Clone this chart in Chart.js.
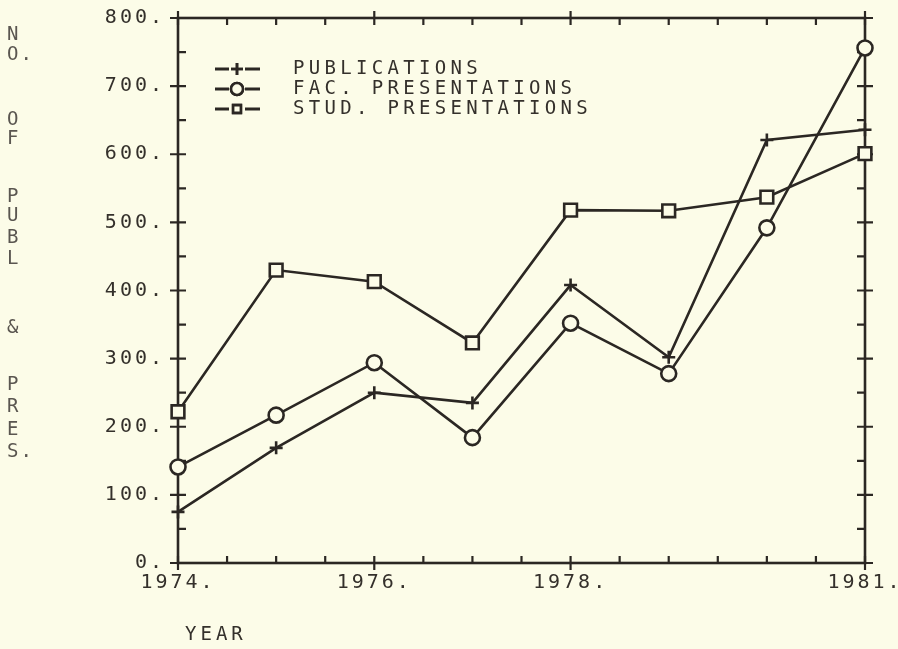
<!DOCTYPE html>
<html lang="en">

<head>
    <meta charset="UTF-8">
    <title>Publications and presentations</title>
    <script src="https://cdn.jsdelivr.net/npm/chart.js"></script>
    <style>
        html, body { margin: 0; padding: 0; background: #fcfce8; }
        #wrap { position: relative; width: 898px; height: 649px; }
    </style>
</head>

<body>
    <div id="wrap">
        <canvas id="myChart" width="898" height="649"></canvas>
    </div>
</body>

</html>
<script>
    // data
    var years = [1974, 1975, 1976, 1977, 1978, 1979, 1980, 1981];
    var publications = [75, 169, 250, 235, 408, 302, 621, 636];
    var facPresentations = [141, 217, 294, 184, 352, 278, 492, 756];
    var studPresentations = [222, 430, 413, 323, 518, 517, 537, 601];
    var seriesNames = ['PUBLICATIONS', 'FAC. PRESENTATIONS', 'STUD. PRESENTATIONS'];
    var xTickLabels = [1974, 1976, 1978, 1981];
    var yTickLabels = [0, 100, 200, 300, 400, 500, 600, 700, 800];
    var yTitle = ['N', 'O.', 'O', 'F', 'P', 'U', 'B', 'L', '&', 'P', 'R', 'E', 'S.'];

    var ink = '#2b2723';
    var paper = '#fcfce8';
    var font = '"DejaVu Sans Mono", monospace';

    function pts(vals) {
        return years.map((yr, i) => ({ x: yr, y: vals[i] }));
    }

    function serie(label, vals, style, r) {
        return {
            label: label,
            data: pts(vals),
            borderColor: ink,
            borderWidth: 2.6,
            pointStyle: style,
            pointRadius: r,
            pointBorderWidth: 2.6,
            pointBackgroundColor: paper,
            pointBorderColor: ink,
            clip: false,
            tension: 0
        };
    }

    // box, ticks, legend, axis titles
    const plotterBits = {
        id: 'plotterBits',
        beforeDraw(chart) {
            chart.ctx.letterSpacing = '3px';
        },
        beforeDatasetsDraw(chart) {
            const ctx = chart.ctx;
            const xs = chart.scales.x, ys = chart.scales.y;
            const a = chart.chartArea;
            ctx.save();
            ctx.strokeStyle = ink;
            ctx.lineWidth = 2.6;
            ctx.strokeRect(a.left, a.top, a.right - a.left, a.bottom - a.top);
            ctx.lineWidth = 2.2;
            ctx.beginPath();
            for (let v = 1974; v <= 1981; v += 0.5) {
                const px = xs.getPixelForValue(v);
                const major = xTickLabels.includes(v);
                const out = major ? 7 : 0;
                ctx.moveTo(px, a.bottom + out); ctx.lineTo(px, a.bottom - 7);
                ctx.moveTo(px, a.top - out); ctx.lineTo(px, a.top + 7);
            }
            for (let v = 0; v <= 800; v += 50) {
                const py = ys.getPixelForValue(v);
                const major = v % 100 === 0;
                const out = major ? 8 : 0;
                ctx.moveTo(a.left - out, py); ctx.lineTo(a.left + 8, py);
                ctx.moveTo(a.right + out, py); ctx.lineTo(a.right - 8, py);
            }
            ctx.stroke();
            ctx.restore();
        },
        afterDatasetsDraw(chart) {
            const ctx = chart.ctx;
            ctx.save();
            ctx.strokeStyle = ink;

            // legend
            const rows = [69, 89, 109];
            const radii = [6, 6, 5.5];
            chart.data.datasets.forEach((ds, i) => {
                const y = rows[i];
                ctx.lineWidth = 3;
                ctx.beginPath();
                ctx.moveTo(215, y); ctx.lineTo(229, y);
                ctx.moveTo(245, y); ctx.lineTo(260, y);
                ctx.stroke();
                ctx.fillStyle = paper;
                ctx.lineWidth = 2.6;
                Chart.helpers.drawPoint(ctx, {
                    pointStyle: ds.pointStyle, radius: radii[i], borderWidth: 2.6, rotation: 0
                }, 237, y);
                ctx.fill();
                ctx.stroke();
                ctx.fillStyle = '#34302b';
                ctx.font = '19px ' + font;
                ctx.letterSpacing = '4.3px';
                ctx.textBaseline = 'middle';
                ctx.textAlign = 'left';
                ctx.fillText(ds.label, 293, y);
            });

            // axis titles
            ctx.fillStyle = '#5a5650';
            ctx.font = '19px ' + font;
            ctx.letterSpacing = '2px';
            const ty = [35, 55, 120, 139, 197, 216, 238, 259, 328, 385, 407, 430, 452];
            yTitle.forEach((t, i) => ctx.fillText(t, 7, ty[i]));
            ctx.fillStyle = '#34302b';
            ctx.font = '19px ' + font;
            ctx.letterSpacing = '4px';
            ctx.fillText('YEAR', 185, 635);
            ctx.restore();
        }
    };

    const ctxChart = document.getElementById('myChart');

    new Chart(ctxChart, {
        type: 'line',
        data: {
            datasets: [
                serie(seriesNames[0], publications, 'cross', 6.5),
                serie(seriesNames[1], facPresentations, 'circle', 7.5),
                serie(seriesNames[2], studPresentations, 'rect', 9)
            ]
        },
        options: {
            responsive: false,
            animation: false,
            layout: { padding: { top: 18, right: 33, left: 0, bottom: 0 } },
            plugins: {
                legend: { display: false },
                tooltip: { enabled: false }
            },
            scales: {
                x: {
                    type: 'linear',
                    min: 1974,
                    max: 1981,
                    grid: { display: false },
                    border: { display: false },
                    ticks: {
                        stepSize: 0.5,
                        autoSkip: false,
                        maxRotation: 0,
                        padding: 0,
                        color: '#34302b',
                        font: { family: font, size: 20 },
                        callback: v => xTickLabels.includes(v) ? v + '.' : ''
                    },
                    afterFit(s) {
                        s.height = 86;
                        s.paddingLeft = 0; s.paddingRight = 0;
                    }
                },
                y: {
                    min: 0,
                    max: 800,
                    grid: { display: false },
                    border: { display: false },
                    ticks: {
                        stepSize: 100,
                        padding: 5,
                        color: '#34302b',
                        font: { family: font, size: 20 },
                        callback: v => yTickLabels.includes(v) ? v + '.' : ''
                    },
                    afterFit(s) {
                        s.width = 178;
                        s.paddingTop = 0; s.paddingBottom = 0;
                    }
                }
            }
        },
        plugins: [plotterBits]
    });
</script>
